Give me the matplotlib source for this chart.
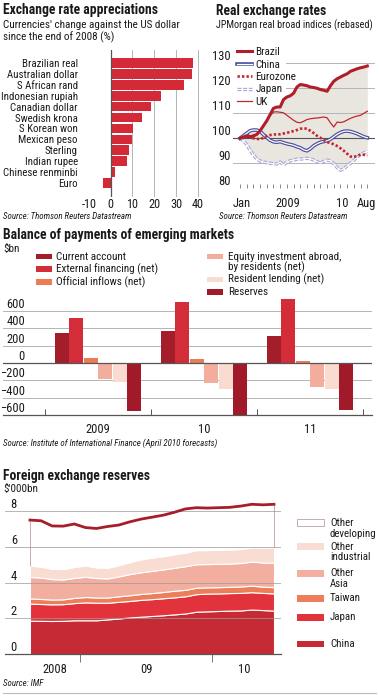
import numpy as np
import matplotlib
matplotlib.use('Agg')
import matplotlib.pyplot as plt
from matplotlib import font_manager
from matplotlib.patches import Rectangle
from matplotlib.lines import Line2D

# --- Daten ---------------------------------------------------------------
# Exchange rate appreciations (% vs US dollar since end-2008)
currencies = ['Brazilian real', 'Australian dollar', 'S African rand', 'Indonesian rupiah',
              'Canadian dollar', 'Swedish krona', 'S Korean won', 'Mexican peso',
              'Sterling', 'Indian rupee', 'Chinese renminbi', 'Euro']
change_pct = [37.6, 37.3, 33.8, 23.3, 18.5, 14.5, 10.2, 9.7, 8.5, 7.7, 2.0, -3.5]

# Real exchange rates, months since Jan 2009 (half-month steps)
rer_months = [0, 0.5, 1, 1.5, 2, 2.5, 3, 3.5, 4, 4.5, 5, 5.5, 6, 6.5, 7, 7.5, 8, 8.5, 9, 9.5,
              10, 10.5, 11, 11.5, 12, 12.5, 13, 13.5, 14, 14.5, 15, 15.5, 16, 16.5, 17, 17.5,
              18, 18.5, 19]
brazil = [100, 100.5, 100.8, 100.5, 101, 101.5, 103, 105, 107, 109.5, 112, 112.5, 112.5, 115.5,
          116.5, 117, 118, 120.5, 121.5, 121.3, 121, 120.5, 120.3, 120, 119.5, 119.2, 118.8,
          121, 122.8, 123.8, 124.5, 125.2, 125.8, 126.8, 127.3, 127.8, 128.2, 128.5, 128.9]
china = [100, 101, 102, 103, 103.3, 103.3, 102.8, 101.5, 100.3, 99.2, 98.6, 98.4, 98.7, 98.2,
         97.8, 97.5, 97.2, 96.6, 96.2, 95.4, 95, 95.8, 97, 97.8, 98.4, 98.7, 99, 99.6, 100.6,
         101.6, 102.3, 102.8, 102.9, 102.7, 102.3, 101.8, 101.2, 100.6, 100.2]
eurozone = [100, 100.8, 101, 100.4, 100, 99.8, 99.6, 100.2, 100.9, 101.3, 101.5, 101.6, 101.6,
            101.9, 102.2, 102.5, 102.9, 103.3, 103.8, 104, 103.8, 103, 102.1, 101, 100.2, 99.3,
            98.5, 98.1, 97.6, 96.9, 96, 95, 93.8, 92.7, 92.5, 93, 93.5, 93.4, 93]
japan = [100, 99, 97.5, 95.3, 93.3, 91.8, 90.9, 90.5, 90.2, 90, 89.8, 89.7, 90.5, 89.3, 90.5,
         91, 91.3, 91.6, 91.7, 91.8, 92, 91.8, 91.3, 90.7, 90.1, 90.8, 91.3, 91, 89.8, 88.3,
         87.2, 87.8, 89, 90, 91.2, 92.5, 93.5, 94.2, 94.7]
uk = [100, 101, 102, 101, 100.5, 101.5, 103, 105, 107, 109, 110.5, 110.6, 110.4, 110.2, 109.2,
      108.2, 107.2, 106.4, 106.2, 106.8, 107.5, 107.8, 108, 108.1, 108.3, 108.5, 108.2, 106.2,
      104.5, 106.5, 106.3, 106.6, 107.3, 108, 108.5, 108.9, 109.2, 110, 110.8]

# Balance of payments of emerging markets ($bn)
bop_years = ['2009', '10', '11']
current_account = [347, 366, 316]
external_financing = [522, 705, 744]
official_inflows = [55, 47, 23]
equity_abroad = [-187, -234, -273]
resident_lending = [-214, -300, -300]
reserves_change = [-553, -620, -543]

# Foreign exchange reserves ($'000bn), monthly from Aug 2008 to Jun 2010
fx_china = [1.88, 1.87, 1.86, 1.87, 1.90, 1.90, 1.90, 1.95, 2.00, 2.06, 2.10, 2.14, 2.18, 2.23,
            2.28, 2.38, 2.40, 2.42, 2.44, 2.45, 2.50, 2.47, 2.44]
fx_japan = [0.95, 0.94, 0.93, 0.93, 0.96, 1.00, 0.98, 0.93, 0.93, 0.92, 0.94, 0.94, 0.95, 0.95,
            0.96, 0.98, 0.99, 0.98, 0.98, 0.98, 0.97, 0.96, 0.96]
fx_taiwan = [0.29, 0.28, 0.27, 0.27, 0.29, 0.30, 0.29, 0.29, 0.31, 0.32, 0.33, 0.34, 0.35, 0.37,
             0.36, 0.36, 0.35, 0.35, 0.35, 0.36, 0.36, 0.35, 0.35]
fx_other_asia = [1.20, 1.20, 1.14, 1.11, 1.12, 1.13, 1.09, 1.07, 1.11, 1.18, 1.21, 1.24, 1.26,
                 1.28, 1.32, 1.31, 1.30, 1.30, 1.30, 1.31, 1.35, 1.35, 1.36]
fx_other_ind = [0.63, 0.61, 0.57, 0.58, 0.61, 0.63, 0.59, 0.59, 0.63, 0.67, 0.72, 0.74, 0.74,
                0.75, 0.76, 0.79, 0.78, 0.79, 0.78, 0.78, 0.79, 0.83, 0.86]
fx_other_dev = [2.55, 2.56, 2.40, 2.40, 2.40, 2.12, 2.18, 2.31, 2.24, 2.25, 2.25, 2.26, 2.29,
                2.35, 2.44, 2.37, 2.35, 2.35, 2.36, 2.40, 2.41, 2.39, 2.41]

# --- Stil ----------------------------------------------------------------
names = {f.name for f in font_manager.fontManager.ttflist}
fam = [n for n in ['Roboto Condensed', 'PT Sans Narrow', 'Archivo Narrow'] if n in names]
plt.rcParams['font.family'] = fam + ['DejaVu Sans']
plt.rcParams['text.color'] = '#1a1a1a'
plt.rcParams['xtick.color'] = '#1a1a1a'
plt.rcParams['ytick.color'] = '#1a1a1a'

GRID = '#b4b4b4'
DARK = '#555555'
RED = '#d42a38'

W, H = 379, 697
fig = plt.figure(figsize=(W / 100, H / 100), dpi=100)


def add_ax(left, top, right, bottom):
    ax = fig.add_axes([left / W, 1 - bottom / H, (right - left) / W, (bottom - top) / H])
    for s in ax.spines.values():
        s.set_visible(False)
    return ax


def ftext(x, y, s, **kw):
    kw.setdefault('va', 'center')
    fig.text(x / W, 1 - y / H, s, **kw)


def swatch(x0, x1, yc, h, color, edge='none'):
    fig.add_artist(Rectangle((x0 / W, 1 - (yc + h / 2) / H), (x1 - x0) / W, h / H,
                             transform=fig.transFigure, facecolor=color, edgecolor=edge, lw=0.6))


TITLE = dict(fontsize=9.8, fontweight='bold')
SUB = dict(fontsize=8)
SRC = dict(fontsize=6.4, style='italic')

# --- 1: Exchange rate appreciations --------------------------------------
ftext(3, 10, 'Exchange rate appreciations', **TITLE)
ftext(3, 25.5, "Currencies' change against the US dollar", **SUB)
ftext(3, 37, 'since the end of 2008 (%)', **SUB)
ftext(3, 217, 'Source: Thomson Reuters Datastream', **SRC)

ax1 = add_ax(80, 50, 200, 196.5)
ypos = np.arange(len(currencies))
ax1.barh(ypos, change_pct, height=0.88, color=RED, zorder=2)
ax1.set_xlim(-14, 41)
ax1.set_ylim(12.24, -1.19)
for v in [10, 20, 30, 40]:
    ax1.axvline(v, color=GRID, lw=0.7, zorder=1)
ax1.axvline(0, color=DARK, lw=0.9, zorder=3)
ax1.set_yticks(ypos, currencies)
ax1.set_xticks([-10, 0, 10, 20, 30, 40], ['-10', '0', '10', '20', '30', '40'])
ax1.tick_params(axis='y', length=0, labelsize=7.8, pad=1.5)
ax1.tick_params(axis='x', length=0, labelsize=8.8, pad=1)

# --- 2: Real exchange rates ----------------------------------------------
ftext(216, 10.5, 'Real exchange rates', **TITLE)
ftext(216, 25, 'JPMorgan real broad indices (rebased)', fontsize=7.3)
ftext(219, 217, 'Source: Thomson Reuters Datastream', **SRC)

ax2 = add_ax(233, 47, 375, 188.3)
series = np.array([brazil, china, eurozone, japan, uk])
ax2.fill_between(rer_months, series.max(axis=0), series.min(axis=0), color='#e8e6de', lw=0, zorder=1)
for v in [80, 90, 110]:
    ax2.axhline(v, color=GRID, lw=0.7, zorder=1.5)
for v in [120, 130]:
    ax2.axhline(v, xmin=0.37, color=GRID, lw=0.7, zorder=1.5)
ax2.axhline(100, color=DARK, lw=0.8, zorder=1.5)

l_uk, = ax2.plot(rer_months, uk, color='#c0282e', lw=0.9, zorder=3)
l_jp1, = ax2.plot(rer_months, japan, color='#a9a6d6', lw=2.4, ls=(0, (1.2, 0.5)), zorder=3)
l_jp2, = ax2.plot(rer_months, japan, color='white', lw=0.8, zorder=3.1)
l_cn1, = ax2.plot(rer_months, china, color='#4b4d9e', lw=2.6, zorder=3.2)
l_cn2, = ax2.plot(rer_months, china, color='white', lw=0.9, zorder=3.3)
l_ez, = ax2.plot(rer_months, eurozone, color='#c4242f', lw=1.9, ls=(0, (0.9, 0.8)), zorder=3.4)
l_br, = ax2.plot(rer_months, brazil, color='#b01e2a', lw=2.2, zorder=3.5)

ax2.set_xlim(-1.04, 20.15)
ax2.set_ylim(80, 136.5)
ax2.set_yticks([80, 90, 100, 110, 120, 130])
ax2.tick_params(axis='y', length=0, labelsize=9, pad=1.5)
for lab in ax2.get_yticklabels():
    lab.set_va('bottom')
ax2.set_xticks([0.25, 7.2, 15.2, 18.9], ['Jan', '2009', '10', 'Aug'])
ax2.set_xticks(np.arange(0, 20), minor=True)
ax2.tick_params(axis='x', which='major', length=0, labelsize=9, pad=6)
ax2.tick_params(axis='x', which='minor', direction='in', length=3, width=0.6, color='#777777')

leg = ax2.legend([l_br, (l_cn1, l_cn2), l_ez, (l_jp1, l_jp2), l_uk],
                 ['Brazil', 'China', 'Eurozone', 'Japan', 'UK'],
                 loc='upper left', bbox_to_anchor=(236 / W, 1 - 46 / H),
                 bbox_transform=fig.transFigure, borderaxespad=0, borderpad=0.1,
                 handlelength=1.35, handletextpad=0.3, labelspacing=0.22, fontsize=8,
                 frameon=False)
leg.set_zorder(5)

# --- 3: Balance of payments ----------------------------------------------
ftext(3, 234.5, 'Balance of payments of emerging markets', **TITLE)
ftext(3, 249, '$bn', **SUB)
ftext(3, 443, 'Source: Institute of International Finance (April 2010 forecasts)', **SRC)

bop_series = [current_account, external_financing, official_inflows,
              equity_abroad, resident_lending, reserves_change]
bop_labels = ['Current account', 'External financing (net)', 'Official inflows (net)',
              'Equity investment abroad,\nby residents (net)', 'Resident lending (net)', 'Reserves']
bop_colors = ['#a31d2b', '#d42d3a', '#ec7c54', '#f2ad9c', '#fadbd0', '#a01a29']

ax3 = add_ax(3, 298, 372, 415)
gx = np.arange(len(bop_years))
for k, (vals, col) in enumerate(zip(bop_series, bop_colors)):
    ax3.bar(gx + (k - 2.5) * 0.136, vals, width=0.133, color=col, zorder=2)
for v in [-400, -200, 200, 400, 600]:
    ax3.axhline(v, color=GRID, lw=0.7, zorder=1)
ax3.axhline(0, color=DARK, lw=0.9, zorder=3)
ax3.spines['bottom'].set_visible(True)
ax3.spines['bottom'].set_color(DARK)
ax3.spines['bottom'].set_linewidth(0.9)
ax3.set_xlim(-0.896, 2.585)
ax3.set_ylim(-600, 750)
ax3.set_yticks([-600, -400, -200, 0, 200, 400, 600])
ax3.tick_params(axis='y', length=0, labelsize=9, pad=-15.8)
for lab in ax3.get_yticklabels():
    lab.set_va('bottom')
ax3.set_xticks(gx, bop_years)
ax3.set_xticks(list(gx - 0.5) + [gx[-1] + 0.5], minor=True)
ax3.tick_params(axis='x', which='major', length=0, labelsize=9, pad=6)
ax3.tick_params(axis='x', which='minor', direction='in', length=4, width=0.7, color=DARK)

# manual legend, two columns
leg_rows = [(36, 52, 56, 256.7), (36, 52, 56, 269), (36, 52, 56, 282),
            (207, 223, 228, 256.7), (207, 223, 228, 279.3), (207, 223, 228, 292)]
for (x0, x1, xt, yc), lab, col in zip(leg_rows, bop_labels, bop_colors):
    swatch(x0, x1, yc, 5.5, col)
    for j, line in enumerate(lab.split('\n')):
        ftext(xt, yc + j * 10.5, line, fontsize=8)

# --- 4: Foreign exchange reserves ----------------------------------------
ftext(3, 476, 'Foreign exchange reserves', **TITLE)
ftext(3, 489, "$'000bn", **SUB)
ftext(3, 683, 'Source: IMF', **SRC)

fx_layers = [fx_china, fx_japan, fx_taiwan, fx_other_asia, fx_other_ind, fx_other_dev]
fx_names = ['China', 'Japan', 'Taiwan', 'Other\nAsia', 'Other\nindustrial', 'Other\ndeveloping']
fx_colors = ['#c52a35', '#e2323c', '#ec7e5a', '#f2ae9f', '#f9dcd2', 'white']

ax4 = add_ax(5, 500, 281, 654.3)
mx = np.arange(len(fx_china))
ax4.stackplot(mx, *fx_layers, colors=fx_colors, edgecolor='white', linewidth=0.8, zorder=2)
cum = np.cumsum(np.array(fx_layers), axis=0)
total = cum[-1]
ax4.vlines([mx[0], mx[-1]], [cum[-2][0], cum[-2][-1]], [total[0], total[-1]],
           color='#c99a9a', lw=0.6, zorder=3)
for v in [2, 4, 6, 8]:
    ax4.axhline(v, color='#9a9a9a', lw=0.6, alpha=0.85, zorder=4)
ax4.plot(mx, total, color='#a81d2b', lw=2.0, zorder=5)
ax4.spines['bottom'].set_visible(True)
ax4.spines['bottom'].set_color(DARK)
ax4.spines['bottom'].set_linewidth(0.9)
ax4.set_xlim(-2.25, 22.63)
ax4.set_ylim(0, 8.62)
ax4.set_yticks([0, 2, 4, 6, 8])
ax4.tick_params(axis='y', length=0, labelsize=9, pad=-8.6)
for lab in ax4.get_yticklabels():
    lab.set_va('bottom')
ax4.set_xticks([2.25, 10.5, 19.3], ['2008', '09', '10'])
ax4.set_xticks([4.5, 16.4], minor=True)
ax4.tick_params(axis='x', which='major', length=0, labelsize=9, pad=6.5)
ax4.tick_params(axis='x', which='minor', direction='out', length=6, width=0.7, color='#777777')

fx_leg = [(644, 0), (617.3, 0), (598.3, 0), (573.3, 10.7), (546.7, 10.5), (522.7, 11)]
for (yc, dy), lab, col in zip(fx_leg, fx_names, fx_colors):
    swatch(297, 324, yc, 6.8, col, edge='#b9a0a0' if col == 'white' else 'none')
    for j, line in enumerate(lab.split('\n')):
        ftext(330, yc + j * dy, line, fontsize=7.8)

fig.add_artist(Line2D([3 / W, 376 / W], [1 - 693 / H, 1 - 693 / H], transform=fig.transFigure,
                      color='#bbbbbb', lw=0.8))

fig.savefig('out.png', dpi=100)
